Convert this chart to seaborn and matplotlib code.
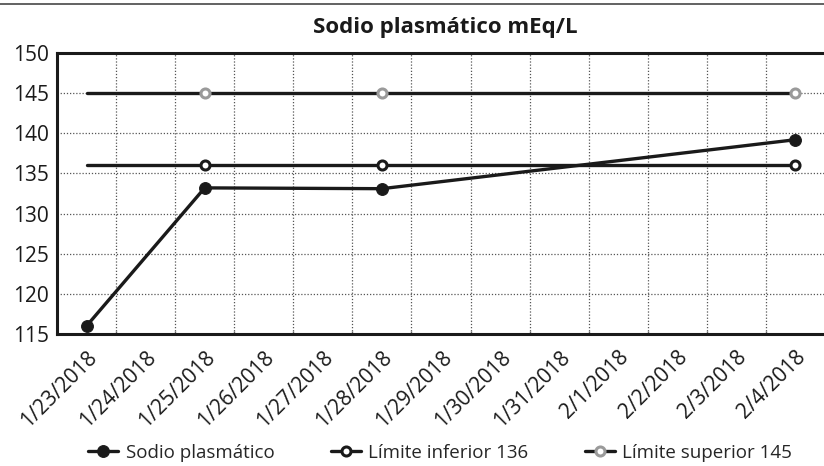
import matplotlib
matplotlib.use('Agg')
import matplotlib.pyplot as plt
import seaborn as sns
from matplotlib.lines import Line2D
from matplotlib.ticker import MultipleLocator

# categories on the x axis (one per day)
fechas = ['1/23/2018', '1/24/2018', '1/25/2018', '1/26/2018', '1/27/2018',
          '1/28/2018', '1/29/2018', '1/30/2018', '1/31/2018', '2/1/2018',
          '2/2/2018', '2/3/2018', '2/4/2018']

# days that have a measurement
fechas_medidas = ['1/23/2018', '1/25/2018', '1/28/2018', '2/4/2018']
sodio = [116.0, 133.2, 133.1, 139.2]
limite_inf = [136, 136, 136, 136]
limite_sup = [145, 145, 145, 145]

y_ticks = [115, 120, 125, 130, 135, 140, 145, 150]

sns.set_theme(style='white')
plt.rcParams['font.family'] = ['Open Sans', 'DejaVu Sans']

x = [fechas.index(f) for f in fechas_medidas]

fig = plt.figure(figsize=(8.24, 4.66), dpi=100)
ax = fig.add_axes([57 / 824, 1 - 334 / 466, 768 / 824, 281 / 466])

negro = '#1a1a1a'
gris = '#9a9a9a'

sns.lineplot(x=x, y=limite_sup, ax=ax, color=negro, lw=2.4, marker='o',
             markevery=[1, 2, 3], markersize=6.5, markerfacecolor='white',
             markeredgecolor=gris, markeredgewidth=2.2,
             label='Límite superior 145', zorder=3)
sns.lineplot(x=x, y=limite_inf, ax=ax, color=negro, lw=2.4, marker='o',
             markevery=[1, 2, 3], markersize=6.5, markerfacecolor='white',
             markeredgecolor=negro, markeredgewidth=2.2,
             label='Límite inferior 136', zorder=3)
sns.lineplot(x=x, y=sodio, ax=ax, color=negro, lw=2.4, marker='o',
             markersize=8.5, markerfacecolor=negro, markeredgecolor=negro,
             label='Sodio plasmático', zorder=4)

ax.set_xlim(-0.5, len(fechas) - 0.5)
ax.set_ylim(115, 150)
ax.set_yticks(y_ticks)
ax.set_xticks(range(len(fechas)))
ax.set_xticklabels(fechas, rotation=45, ha='right', rotation_mode='anchor')
ax.xaxis.set_minor_locator(MultipleLocator(1, offset=0.5))
ax.set_xlabel('')
ax.set_ylabel('')

ax.grid(False)
ax.yaxis.grid(True, which='major', linestyle=(0, (1, 1.5)), color='#555555', lw=0.9)
ax.xaxis.grid(True, which='minor', linestyle=(0, (1, 1.5)), color='#555555', lw=0.9)
ax.set_axisbelow(True)

for lado in ['left', 'bottom', 'top']:
    ax.spines[lado].set_color(negro)
    ax.spines[lado].set_linewidth(2.2)
ax.spines['right'].set_visible(False)

ax.tick_params(axis='y', which='both', length=0, pad=6, labelsize=15, colors=negro)
ax.tick_params(axis='x', which='major', length=0, pad=9, labelsize=15, colors=negro)
ax.tick_params(axis='x', which='minor', length=2, direction='in', color='#666666', bottom=True)

if ax.get_legend() is not None:
    ax.get_legend().remove()

fig.add_artist(Line2D([0, 1], [1 - 4 / 466, 1 - 4 / 466], transform=fig.transFigure,
                      color='#555555', lw=1.3))
fig.text(445 / 824, 1 - 33 / 466, 'Sodio plasmático mEq/L', ha='center', va='baseline',
         fontsize=16, fontweight='bold', color=negro)

handles, labels = ax.get_legend_handles_labels()
orden = [labels.index(l) for l in ['Sodio plasmático', 'Límite inferior 136', 'Límite superior 145']]
leg_handles = []
for i in orden:
    h = handles[i]
    leg_handles.append(Line2D([0], [0], color=h.get_color(), lw=2.4, marker='o',
                              markersize=h.get_markersize(),
                              markerfacecolor=h.get_markerfacecolor(),
                              markeredgecolor=h.get_markeredgecolor(),
                              markeredgewidth=h.get_markeredgewidth()))
fig.legend(leg_handles, [labels[i] for i in orden], loc='center', ncol=3,
           bbox_to_anchor=(440 / 824, 1 - 453 / 466), frameon=False,
           fontsize=13.5, handlelength=1.6, handletextpad=0.4, columnspacing=3.0)

fig.savefig('out.png', dpi=100)
